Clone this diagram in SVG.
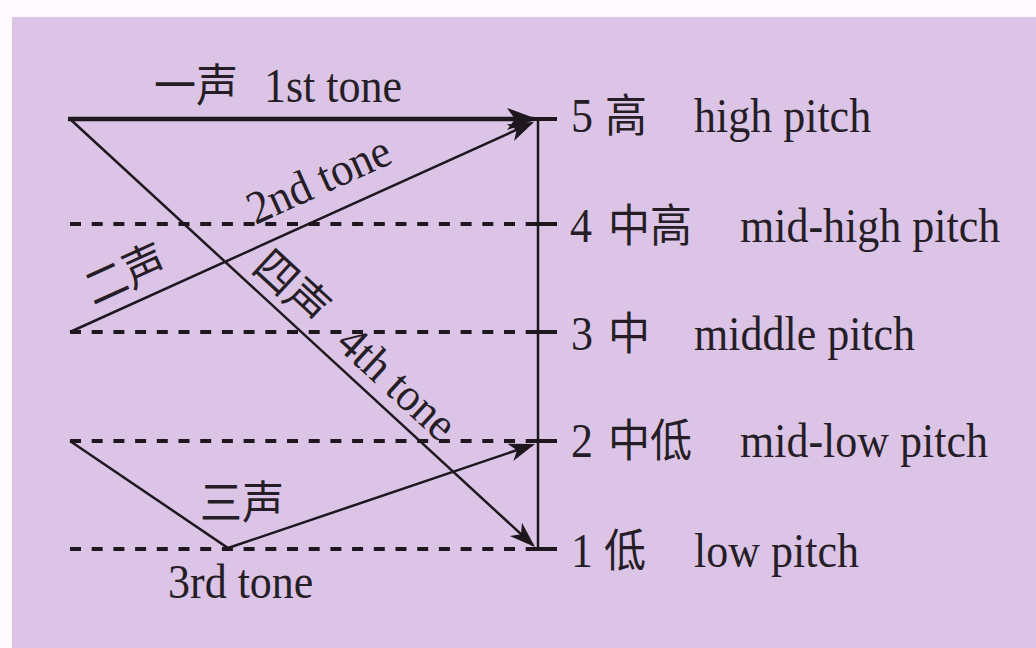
<svg xmlns="http://www.w3.org/2000/svg" width="1036" height="648" viewBox="0 0 1036 648">
<style>
.t{font-family:"Liberation Serif","Noto Sans CJK SC",serif;font-size:44px;fill:#261e26}
.c{font-family:"Liberation Serif","Noto Sans CJK SC",serif;font-size:42px;fill:#261e26}
.ln{stroke:#1e181e;fill:none}
.dash{stroke:#1e181e;stroke-width:4;stroke-dasharray:11 10.7;fill:none}
.thin{stroke:#1e181e;stroke-width:2.5;fill:none;marker-end:url(#ah)}
</style>
<defs>
<marker id="ah" viewBox="-26 -10 30 20" refX="0" refY="0" markerWidth="30" markerHeight="20" markerUnits="userSpaceOnUse" orient="auto">
<path d="M3,0 L-23,-9 L-16,0 L-23,9 Z" fill="#1e181e"/>
</marker>
<marker id="ahb" viewBox="-30 -12 34 24" refX="0" refY="0" markerWidth="34" markerHeight="24" markerUnits="userSpaceOnUse" orient="auto">
<path d="M3,0 L-27,-11 L-19,0 L-27,11 Z" fill="#1e181e"/>
</marker>
</defs>
<rect x="0" y="0" width="1036" height="648" fill="#fdfafd"/>
<rect x="12" y="17" width="1024" height="631" fill="#dcc4e7"/>
<g id="connectors">
<line class="dash" x1="70" y1="224" x2="526" y2="224"/>
<line class="dash" x1="70" y1="332" x2="526" y2="332"/>
<line class="dash" x1="70" y1="441" x2="526" y2="441"/>
<line class="dash" x1="70" y1="549" x2="526" y2="549"/>
<line class="ln" stroke-width="2.5" x1="538" y1="119" x2="538" y2="550"/>
<line class="ln" stroke-width="4" x1="528" y1="119" x2="557" y2="119"/>
<line class="ln" stroke-width="4" x1="526" y1="224" x2="557" y2="224"/>
<line class="ln" stroke-width="4" x1="526" y1="332" x2="557" y2="332"/>
<line class="ln" stroke-width="4" x1="526" y1="441" x2="557" y2="441"/>
<line class="ln" stroke-width="4" x1="526" y1="549" x2="557" y2="549"/>
<line class="ln" stroke-width="4.5" x1="68" y1="119" x2="534" y2="119" marker-end="url(#ahb)"/>
<line class="thin" x1="70" y1="332" x2="531.3" y2="123.2"/>
<line class="thin" x1="70" y1="119" x2="532.8" y2="545"/>
<polyline class="thin" points="70,441 228,548 532.2,445"/>
</g>
<g id="tone1" transform="matrix(1,0,0,1.08,0,-8.16)">
<text class="c" x="154" y="102">一声</text>
<text class="t" x="264" y="102">1st tone</text>
</g>
<g id="tone2" transform="translate(70,332) rotate(-24.35)">
<text class="c" x="32" y="-14" transform="matrix(1,0,0,1.06,0,0.84)">二声</text>
<text class="t" x="213" y="-21" transform="matrix(1,0,0,1.06,0,1.26)">2nd tone</text>
</g>
<g id="tone4" transform="translate(70,119) rotate(42.63)">
<text class="c" x="235" y="-11" transform="matrix(1,0,0,1.06,0,0.66)">四声</text>
<text class="t" x="348" y="-12" transform="matrix(1,0,0,1.06,0,0.72)">4th tone</text>
</g>
<g id="tone3">
<text class="c" x="200" y="519" transform="matrix(1,0,0,1.08,0,-41.52)">三声</text>
<text class="t" x="168" y="598" transform="matrix(1,0,0,1.08,0,-47.84)">3rd tone</text>
</g>
<g id="level5" transform="matrix(1,0,0,1.08,0,-10.56)">
<text class="t" x="571" y="132">5</text>
<text class="c" x="605" y="132">高</text>
<text class="t" x="694" y="132">high pitch</text>
</g>
<g id="level4" transform="matrix(1,0,0,1.08,0,-19.36)">
<text class="t" x="570" y="242">4</text>
<text class="c" x="608" y="242">中高</text>
<text class="t" x="740" y="242">mid-high pitch</text>
</g>
<g id="level3" transform="matrix(1,0,0,1.08,0,-28)">
<text class="t" x="571" y="350">3</text>
<text class="c" x="608" y="350">中</text>
<text class="t" x="694" y="350">middle pitch</text>
</g>
<g id="level2" transform="matrix(1,0,0,1.08,0,-36.56)">
<text class="t" x="571" y="457">2</text>
<text class="c" x="608" y="457">中低</text>
<text class="t" x="740" y="457">mid-low pitch</text>
</g>
<g id="level1" transform="matrix(1,0,0,1.08,0,-45.36)">
<text class="t" x="571" y="567">1</text>
<text class="c" x="604" y="567">低</text>
<text class="t" x="694" y="567">low pitch</text>
</g>
</svg>
